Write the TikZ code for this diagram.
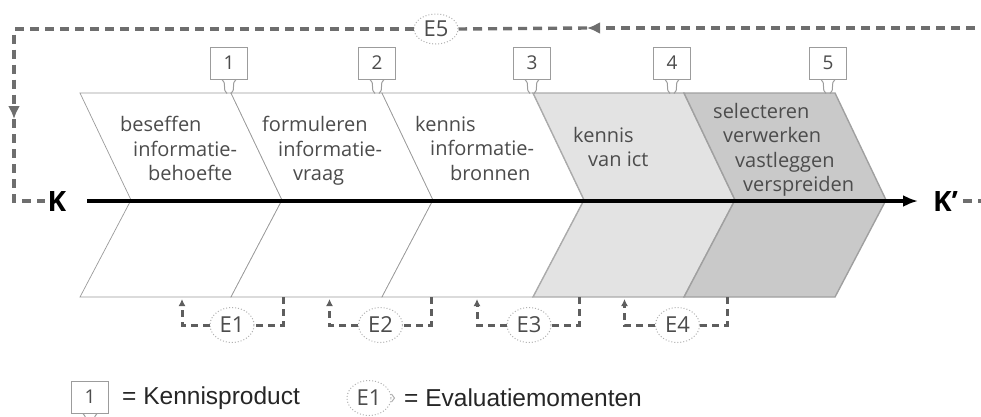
\documentclass[tikz,border=0pt]{standalone}
\usepackage{fontspec}
\setmainfont{Open Sans}
\newfontfamily\legendfont{Liberation Sans}
\usepackage{tikz}
\usetikzlibrary{arrows.meta,shapes.geometric}

\definecolor{txtgray}{HTML}{4C4C4C}
\definecolor{segline}{HTML}{9A9A9A}
\definecolor{seglight}{HTML}{E3E3E3}
\definecolor{seglightline}{HTML}{ABABAB}
\definecolor{segdark}{HTML}{C9C9C9}
\definecolor{segdarkline}{HTML}{A0A0A0}
\definecolor{dashgray}{HTML}{5E5E5E}
\definecolor{ellgray}{HTML}{B0B0B0}
\definecolor{boxgray}{HTML}{9C9C9C}

\begin{document}
\begin{tikzpicture}[x=1pt,y=-1pt,
  segtext/.style={anchor=north west,inner sep=0,align=left,text=txtgray,font=\fontsize{20}{24.5}\selectfont},
  prodbox/.style={draw=boxgray,line width=1pt,fill=white,minimum width=37,minimum height=32,inner sep=0,text=txtgray,font=\fontsize{19}{19}\selectfont},
  hookline/.style={draw=boxgray,line width=1pt},
  evalell/.style={ellipse,draw=ellgray,dotted,line width=1pt,fill=white,minimum width=44,minimum height=35,inner sep=0,text=txtgray,font=\fontsize{22}{22}\selectfont},
  eline/.style={draw=dashgray,line width=3pt,dash pattern=on 7pt off 5pt},
  loopline/.style={draw=dashgray!90,line width=3.4pt,dash pattern=on 9pt off 6pt},
  axis/.style={line width=3.5pt,-{Latex[length=15pt,width=12pt]}},
  kfont/.style={inner sep=0,font=\bfseries\fontsize{28}{28}\selectfont}
]
\useasboundingbox (0,0) rectangle (981,416);
\clip (0,0) rectangle (981,416);

% chevrons
\foreach \i/\fc/\lc/\lw in {0/white/segline/0.7pt,1/white/segline/0.7pt,2/white/segline/0.7pt,3/seglight/seglightline/1.4pt,4/segdark/segdarkline/1.4pt}
  \filldraw[fill=\fc,draw=\lc,line width=\lw] ({80+151*\i},93) -- ({231+151*\i},93) -- ({282+151*\i},200) -- ({231+151*\i},297) -- ({80+151*\i},297) -- ({131+151*\i},200) -- cycle;

\node[segtext] (s1) at (120,116) {beseffen\\\hspace*{13pt}informatie-\\\hspace*{28pt}behoefte};
\node[segtext] (s2) at (262,116) {formuleren\\\hspace*{16pt}informatie-\\\hspace*{31pt}vraag};
\node[segtext] (s3) at (415,116) {kennis\\\hspace*{15pt}informatie-\\\hspace*{35pt}bronnen};
\node[segtext] (s4) at (573,127) {kennis\\\hspace*{15pt}van ict};
\node[segtext] (s5) at (713,103) {selecteren\\\hspace*{10pt}verwerken\\\hspace*{22pt}vastleggen\\\hspace*{30pt}verspreiden};

% axis K -> K'
\node[kfont] (K) at (57,201) {K};
\node[kfont,anchor=west] (Kp) at (933,201) {K’};
\draw[axis,shorten <=21pt,shorten >=15pt] (K) -- (Kp);

% kennisproducten
\foreach \n/\x in {1/229,2/377,3/532,4/672,5/828} {
  \node[prodbox] (p\n) at (\x,63) {\n};
  \draw[hookline] ([xshift=-7pt]p\n.south) .. controls +(5,3) and +(-5,-3) .. ([shift={(-2,14)}]p\n.south);
  \draw[hookline] ([xshift=7pt]p\n.south) .. controls +(-5,3) and +(5,-3) .. ([shift={(2,14)}]p\n.south);
}

% evaluatiemomenten E1-E4
\foreach \i in {1,...,4} {
  \node[evalell] (E\i) at ({232+148.5*(\i-1)},325) {E\i};
  \coordinate (a\i) at ({182+147.5*(\i-1)},299);
  \coordinate (b\i) at ({283+148*(\i-1)},297);
  \draw[eline,-{Latex[length=7pt,width=7pt]}] (E\i.west) -| (a\i);
  \draw[eline] (b\i) |- (E\i.east);
}

% E5 loop
\node[evalell,minimum height=30] (E5) at (436,29) {E5};
\coordinate (kbr) at (990,201);
\coordinate (kra) at (990,112);
\coordinate (ktr) at (990,28);
\coordinate (kta) at (587,28);
\coordinate (ktl) at (14,28);
\coordinate (kla) at (14,119);
\coordinate (kbl) at (14,201);
\draw[loopline,-{Latex[length=13pt,width=12pt]},shorten <=5pt] (Kp.east) -- (kbr) -- (kra);
\draw[loopline] (kra) -- (ktr);
\draw[loopline,-{Latex[length=13pt,width=12pt]}] (ktr) -- (kta);
\draw[loopline] (kta) -- (E5.east);
\draw[loopline,-{Latex[length=13pt,width=12pt]}] (E5.west) -| (kla);
\draw[loopline,shorten >=3pt] (kla) -- (kbl) -- (K.west);

% legenda
\node[prodbox] (lp) at (90,397) {1};
\draw[hookline] ([xshift=-7pt]lp.south) .. controls +(5,3) and +(-5,-3) .. ([shift={(-2,14)}]lp.south);
\draw[hookline] ([xshift=7pt]lp.south) .. controls +(-5,3) and +(5,-3) .. ([shift={(2,14)}]lp.south);
\node[anchor=west,inner sep=0,text=black!85,font=\legendfont\fontsize{24.5}{24.5}\selectfont] (lpt) at (122,398) {= Kennisproduct};
\node[evalell] (le) at (369,398) {E1};
\draw[hookline,draw=ellgray] ([yshift=-4pt]le.east) -- ([xshift=3pt]le.east) -- ([yshift=4pt]le.east);
\node[anchor=west,inner sep=0,text=black!85,font=\legendfont\fontsize{24.5}{24.5}\selectfont] (let) at (404,398) {= Evaluatiemomenten};
\end{tikzpicture}
\end{document}
